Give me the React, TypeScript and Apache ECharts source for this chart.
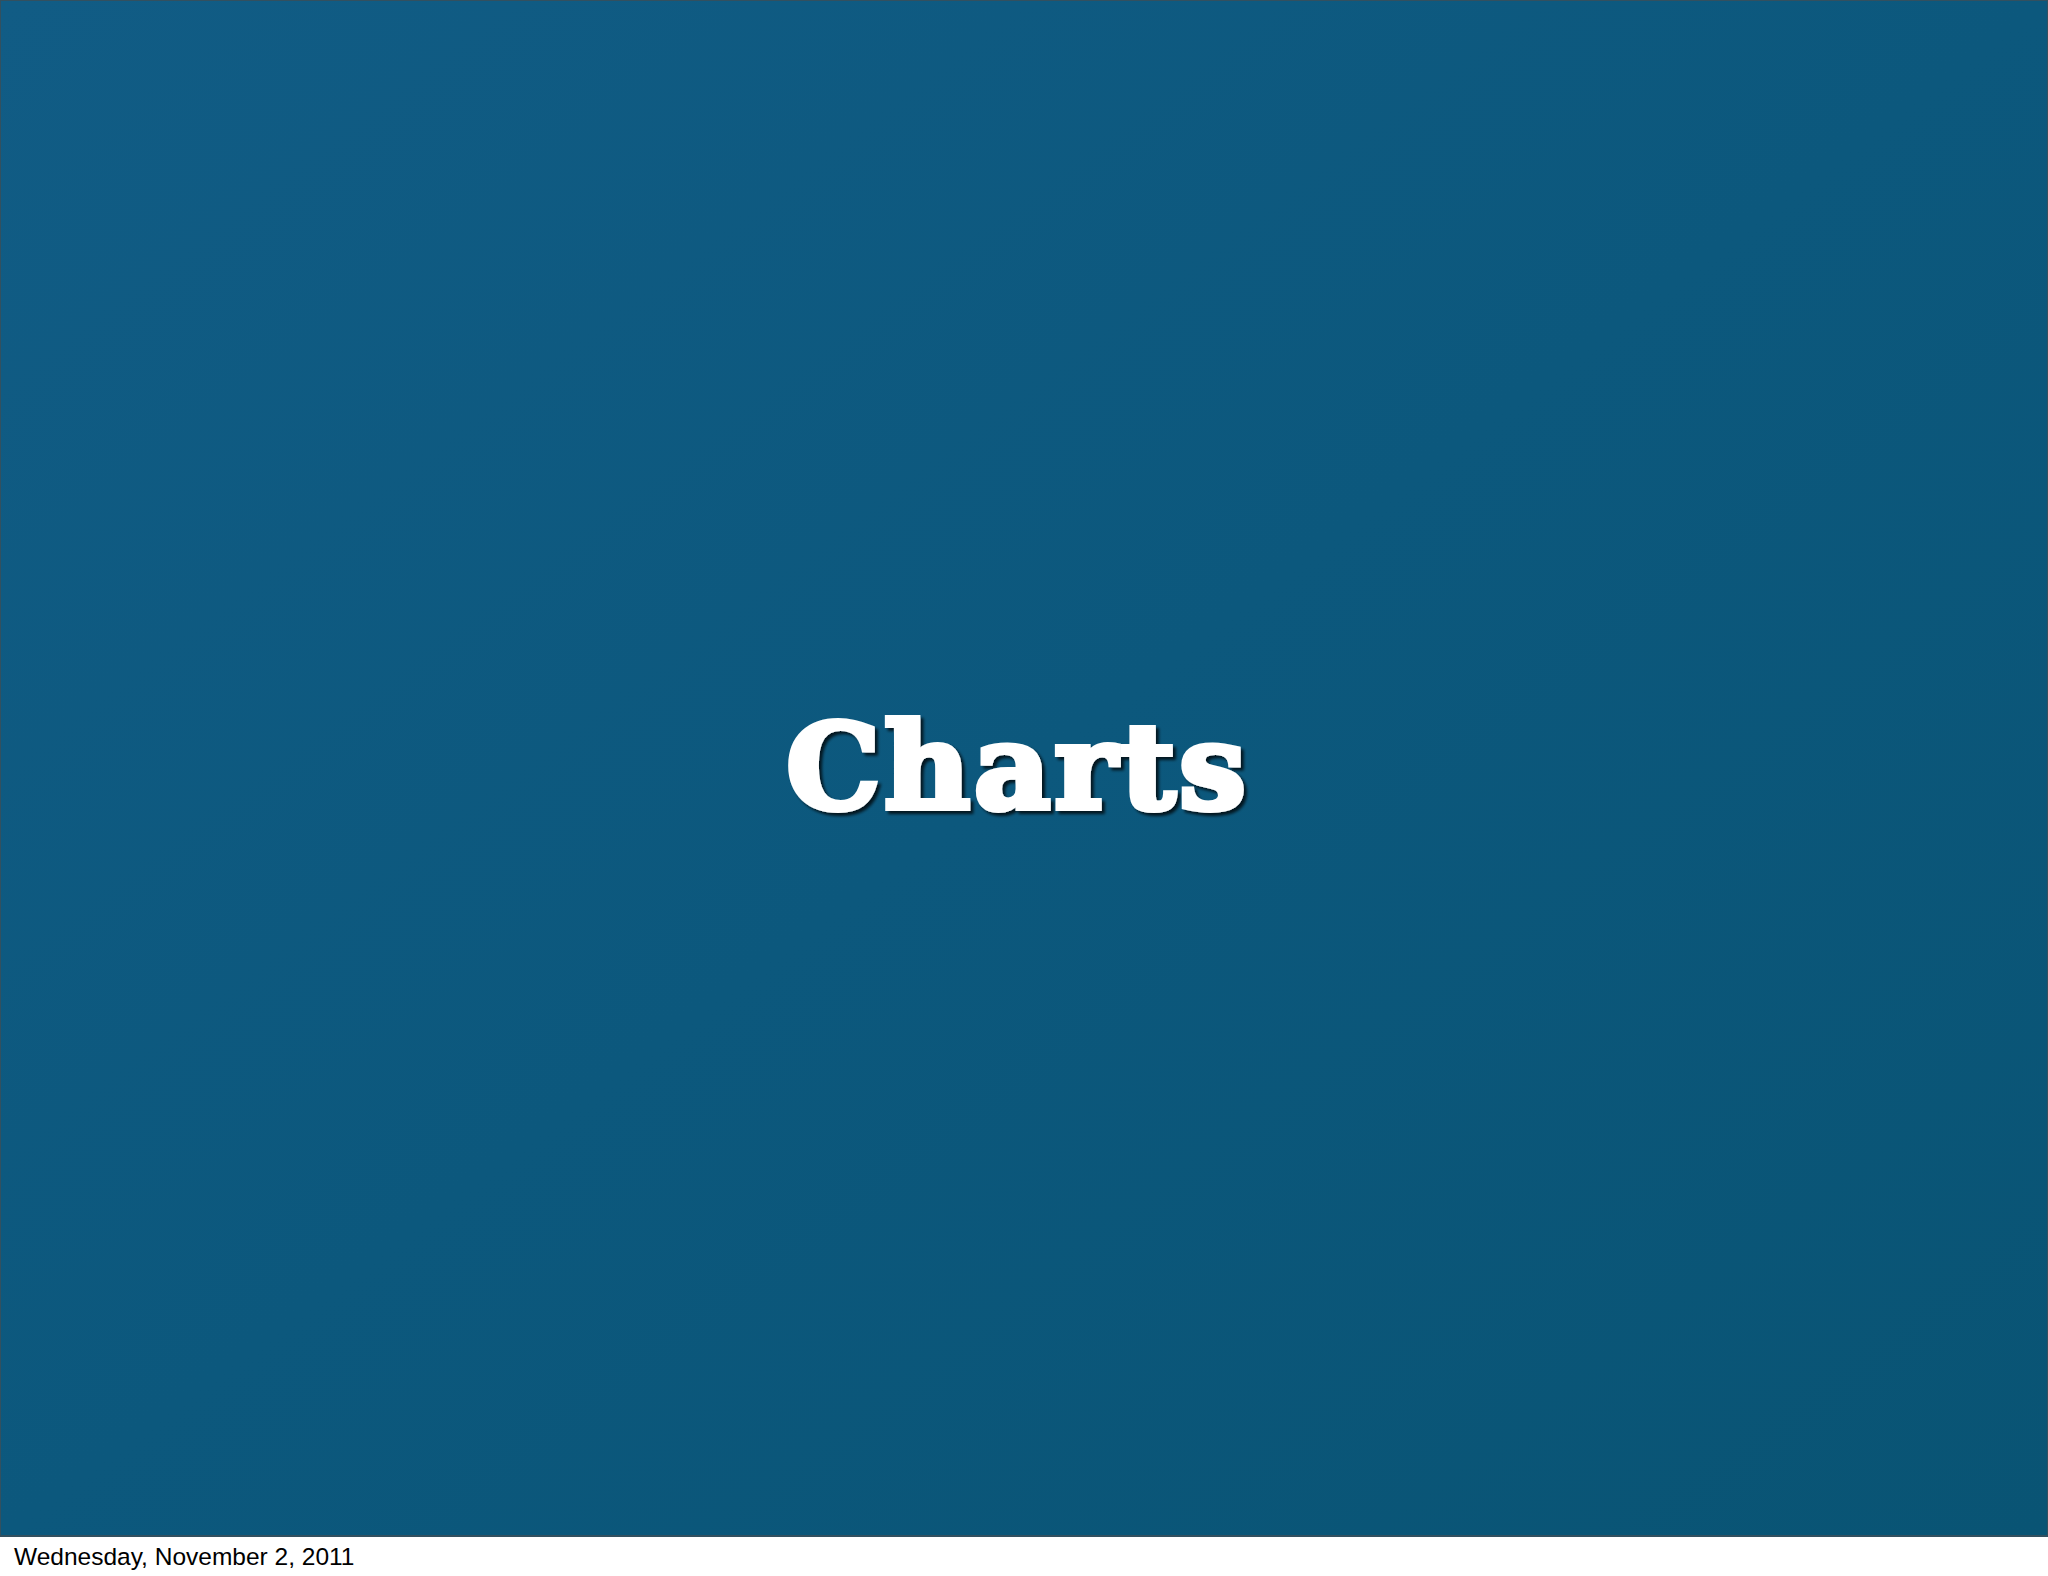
import { useEffect, useRef } from 'react';
import * as echarts from 'echarts';

// slide texts
const titleText = 'Charts';
const footerText = 'Wednesday, November 2, 2011';

const W = 2048;
const H = 1576;
const SLIDE_H = 1536;

export default function App() {
    const chartRef = useRef<HTMLDivElement>(null);

    useEffect(() => {
        document.body.style.margin = '0';
        const myChart = echarts.init(chartRef.current, null, { renderer: 'svg' });

        myChart.setOption({
            animation: false,
            backgroundColor: '#ffffff',
            graphic: [
                {
                    type: 'rect',
                    silent: true,
                    shape: { x: 0, y: 0, width: W, height: SLIDE_H },
                    style: {
                        fill: new echarts.graphic.LinearGradient(0, 0, 1, 1, [
                            { offset: 0, color: '#115c85' },
                            { offset: 0.5, color: '#0c587d' },
                            { offset: 1, color: '#095474' },
                        ]),
                        stroke: '#33505f',
                        lineWidth: 2,
                    },
                },
                {
                    type: 'text',
                    silent: true,
                    x: 1018,
                    y: 766,
                    style: {
                        text: titleText,
                        align: 'center',
                        verticalAlign: 'middle',
                        fontFamily: 'DejaVu Serif',
                        fontWeight: 'bold',
                        fontSize: 118,
                        fill: '#ffffff',
                        stroke: '#ffffff',
                        lineWidth: 6,
                        textShadowColor: 'rgba(0,0,0,0.75)',
                        textShadowBlur: 3,
                        textShadowOffsetX: 3,
                        textShadowOffsetY: 3,
                    },
                },
                {
                    type: 'text',
                    silent: true,
                    x: 14,
                    y: 1556,
                    style: {
                        text: footerText,
                        align: 'left',
                        verticalAlign: 'middle',
                        fontFamily: 'Liberation Sans',
                        fontSize: 24.5,
                        fill: '#000000',
                    },
                },
            ],
        });

        // open up the heavy title a little, like the slide's display face
        chartRef.current?.querySelectorAll('text').forEach((t) => {
            if (t.textContent === titleText) {
                (t as SVGTextElement).style.letterSpacing = '4px';
            }
        });

        return () => {
            myChart.dispose();
        };
    }, []);

    return <div ref={chartRef} style={{ width: W + 'px', height: H + 'px' }} />;
}
